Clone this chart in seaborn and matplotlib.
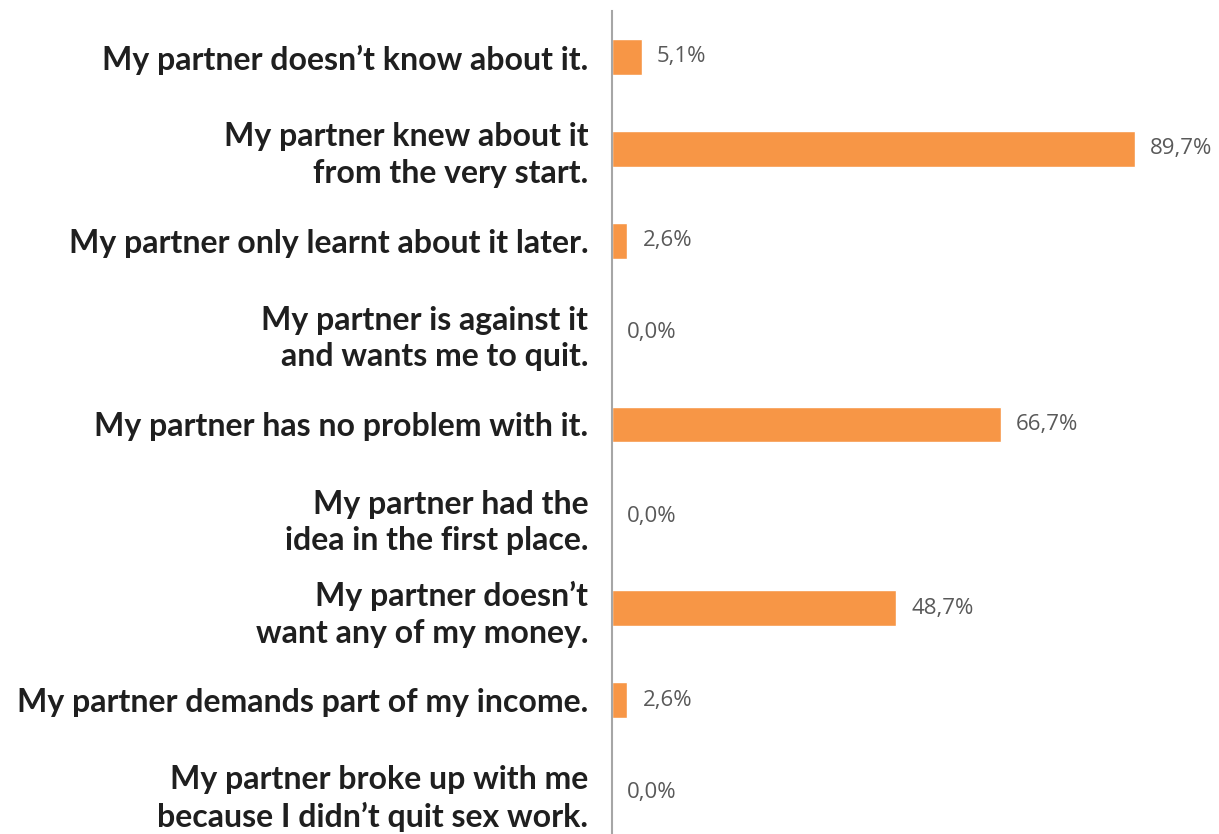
import matplotlib
matplotlib.use("Agg")
import matplotlib.pyplot as plt
import seaborn as sns
import pandas as pd

categories = [
    "My partner doesn\u2019t know about it.",
    "My partner knew about it\nfrom the very start.",
    "My partner only learnt about it later.",
    "My partner is against it\nand wants me to quit.",
    "My partner has no problem with it.",
    "My partner had the\nidea in the first place.",
    "My partner doesn\u2019t\nwant any of my money.",
    "My partner demands part of my income.",
    "My partner broke up with me\nbecause I didn\u2019t quit sex work.",
]
values = [5.1, 89.7, 2.6, 0.0, 66.7, 0.0, 48.7, 2.6, 0.0]

sns.set_theme(style="white")
plt.rcParams['font.family'] = ['Lato', 'DejaVu Sans']

df = pd.DataFrame({"cat": categories, "val": values})

fig = plt.figure(figsize=(12.19, 8.34), dpi=100)
ax = fig.add_axes([612/1219, 1 - 838/834, 583/1219, (838 - 11)/834])
sns.barplot(data=df, x="val", y="cat", orient="h", color="#F79646",
            saturation=1, width=0.39, ax=ax)
ax.set_xlim(0, 100)
ax.set_ylim(8.5, -0.5)
ax.set_xlabel("")
ax.set_ylabel("")
ax.set_xticks([])
ax.tick_params(axis="y", length=0, pad=17)
for lab in ax.get_yticklabels():
    lab.set_fontsize(23)
    lab.set_fontweight("bold")
    lab.set_color("#1f1f1f")
    lab.set_linespacing(1.3)
    lab.set_horizontalalignment("right")
    lab.set_multialignment("right")
for s in ["top", "right", "bottom"]:
    ax.spines[s].set_visible(False)
ax.spines["left"].set_color("#a6a6a6")
ax.spines["left"].set_linewidth(1.5)

labels = [f"{v:.1f}%".replace(".", ",") for v in values]
texts = ax.bar_label(ax.containers[0], labels=labels, padding=11,
                     fontsize=16, color="#595959")
for t in texts:
    t.set_family(['Open Sans', 'DejaVu Sans'])

fig.savefig("out.png", dpi=100)
